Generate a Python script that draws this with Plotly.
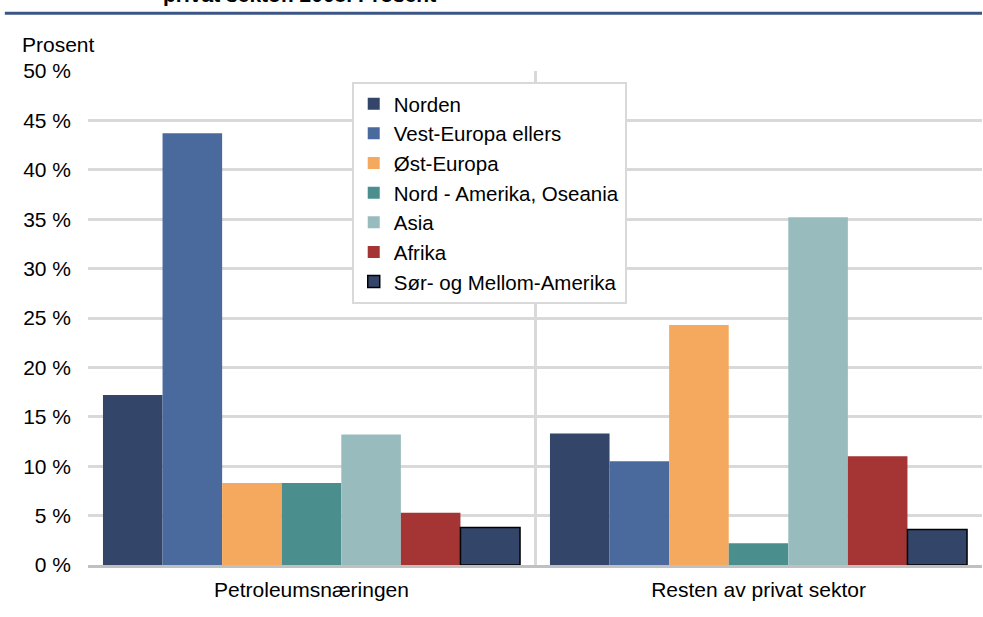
import plotly.graph_objects as go

# %%
sectors = ['Petroleumsnæringen', 'Resten av privat sektor']
regions = ['Norden', 'Vest-Europa ellers', 'Øst-Europa', 'Nord - Amerika, Oseania',
           'Asia', 'Afrika', 'Sør- og Mellom-Amerika']
petroleum = [17.2, 43.7, 8.3, 8.3, 13.2, 5.3, 3.8]
rest = [13.3, 10.5, 24.3, 2.2, 35.2, 11.0, 3.6]
colors = ['#33466a', '#4a6a9e', '#f5a95e', '#4a8f8e', '#98bcbd', '#a53535', '#33466a']
y_ticks = list(range(0, 55, 5))
y_labels = [f'{t} %' for t in y_ticks]

font = 'Arial, Liberation Sans, sans-serif'

# %%
fig = go.Figure()
for i, name in enumerate(regions):
    edge = 'black' if name.startswith('Sør') else colors[i]
    fig.add_trace(go.Bar(
        name=name, x=sectors, y=[petroleum[i], rest[i]],
        marker=dict(color=colors[i], line=dict(color=edge, width=1.5 if edge == 'black' else 0)),
    ))

fig.update_layout(
    width=983, height=617,
    margin=dict(l=88, r=1, t=71, b=52),
    paper_bgcolor='white', plot_bgcolor='white',
    font=dict(family=font, size=21, color='black'),
    barmode='group', bargap=0.067, bargroupgap=0,
    showlegend=True,
    legend=dict(
        x=0.295, y=0.978, xanchor='left', yanchor='top',
        bgcolor='white', bordercolor='#d9d9d9', borderwidth=2,
        font=dict(family=font, size=20.5), tracegroupgap=0,
    ),
)
fig.update_xaxes(
    type='category', tickson='boundaries', showgrid=True,
    gridcolor='#d9d9d9', gridwidth=3,
    showline=True, linecolor='#c0c0c0', linewidth=3,
    ticks='', ticklabelstandoff=4,
)
fig.update_yaxes(
    range=[0, 50], tickvals=y_ticks, ticktext=y_labels,
    showgrid=True, gridcolor='#d9d9d9', gridwidth=3,
    zeroline=False, ticks='', ticklabelstandoff=16,
)

# header rule and clipped title
fig.add_shape(type='line', xref='paper', yref='paper',
              x0=-0.093, x1=1.0, y0=1.117, y1=1.117,
              line=dict(color='#3b5584', width=3))
fig.add_annotation(text='<b>privat sektor. 2008. Prosent</b>', xref='paper', yref='paper',
                   x=0.0818, y=1.1275, xanchor='left', yanchor='bottom', showarrow=False,
                   font=dict(family=font, size=21))
fig.add_annotation(text='Prosent', xref='paper', yref='paper',
                   x=-0.076, y=1.026, xanchor='left', yanchor='bottom', showarrow=False,
                   font=dict(family=font, size=21))

fig.write_html('out.html', config={'displayModeBar': False},
               post_script="document.body.style.margin='0';")
